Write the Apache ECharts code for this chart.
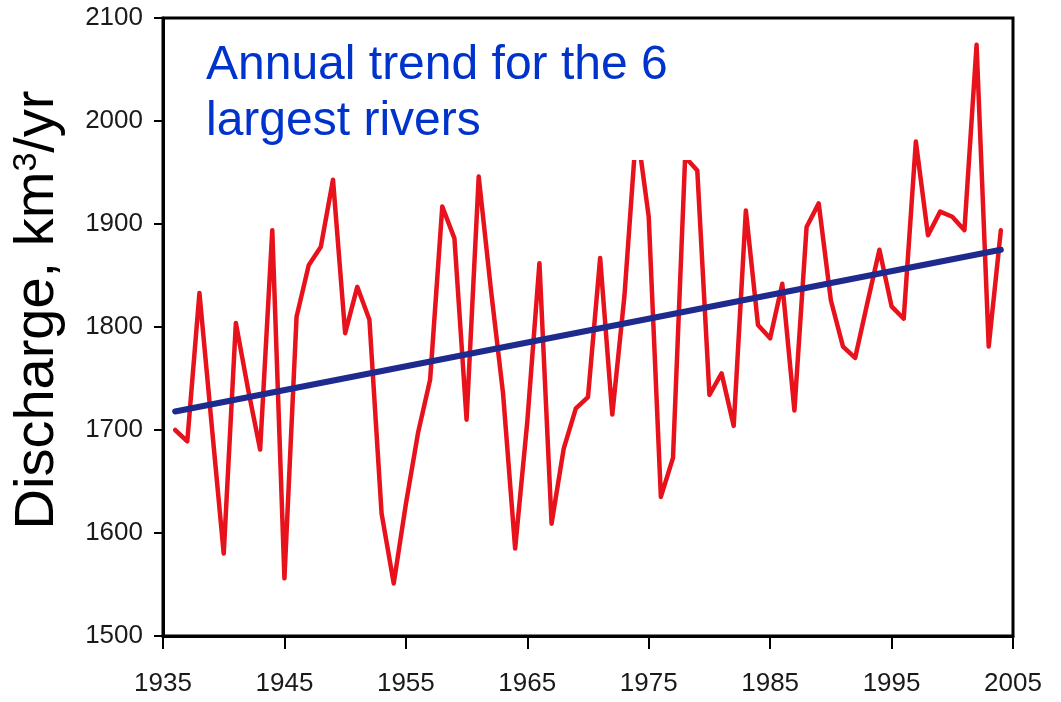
<!DOCTYPE html>
<html>
<head>
<meta charset="utf-8">
<script src="https://cdn.jsdelivr.net/npm/echarts@6/dist/echarts.min.js"></script>
<style>
  html, body { margin: 0; padding: 0; background: #ffffff; }
  #chart { width: 1061px; height: 702px; }
</style>
</head>
<body>
<div id="chart"></div>
<script>
// ---- data ----
const axisStartYear = 1935;
const xTickLabels = ['1935', '1945', '1955', '1965', '1975', '1985', '1995', '2005'];
const yTickLabels = ['1500', '1600', '1700', '1800', '1900', '2000', '2100'];
const years = [
  1936, 1937, 1938, 1939, 1940, 1941, 1942, 1943, 1944, 1945,
  1946, 1947, 1948, 1949, 1950, 1951, 1952, 1953, 1954, 1955,
  1956, 1957, 1958, 1959, 1960, 1961, 1962, 1963, 1964, 1965,
  1966, 1967, 1968, 1969, 1970, 1971, 1972, 1973, 1974, 1975,
  1976, 1977, 1978, 1979, 1980, 1981, 1982, 1983, 1984, 1985,
  1986, 1987, 1988, 1989, 1990, 1991, 1992, 1993, 1994, 1995,
  1996, 1997, 1998, 1999, 2000, 2001, 2002, 2003, 2004
];
const discharge = [
  1700, 1689, 1833, 1706, 1580, 1804, 1740, 1681, 1894, 1556,
  1810, 1860, 1878, 1943, 1794, 1839, 1807, 1619, 1551, 1628,
  1697, 1749, 1917, 1886, 1710, 1946, 1837, 1736, 1585, 1708,
  1862, 1609, 1682, 1721, 1732, 1867, 1715, 1830, 1995, 1907,
  1635, 1673, 1965, 1952, 1734, 1755, 1704, 1913, 1802, 1789,
  1842, 1719, 1897, 1920, 1826, 1781, 1770, 1823, 1875, 1820,
  1808, 1980, 1889, 1912, 1907, 1894, 2074, 1781, 1894
];
const trendYears = [1936, 2004];
const trendValues = [1718, 1875];
const titleText = 'Annual trend for the 6\nlargest rivers';

// ---- build series data (x measured in years after axisStartYear) ----
const redData = years.map((y, i) => [y - axisStartYear, discharge[i]]);
const trendData = trendYears.map((y, i) => [y - axisStartYear, trendValues[i]]);

const tickFont = "'Liberation Sans Narrow', 'Arial Narrow', 'Liberation Sans', Arial, sans-serif";
const mainFont = "'Liberation Sans', Arial, sans-serif";

const chart = echarts.init(document.getElementById('chart'), null, { renderer: 'canvas' });
chart.setOption({
  animation: false,
  backgroundColor: '#ffffff',
  grid: {
    left: 163, right: 48, top: 18, bottom: 66,
    show: true, borderColor: '#000000', borderWidth: 3, backgroundColor: 'transparent'
  },
  xAxis: {
    type: 'value',
    min: 0, max: 70, interval: 10,
    axisLine: { show: true, onZero: false, lineStyle: { color: '#000000', width: 3 } },
    axisTick: { show: true, inside: false, length: 13, lineStyle: { color: '#000000', width: 2 } },
    axisLabel: {
      margin: 35, color: '#1a1a1a', fontSize: 26, fontFamily: tickFont,
      formatter: v => xTickLabels[Math.round(v / 10)]
    },
    splitLine: { show: false }
  },
  yAxis: {
    type: 'value',
    min: 1500, max: 2100, interval: 100,
    name: 'Discharge, km{sup|3}/yr',
    nameLocation: 'middle',
    nameGap: 97,
    nameRotate: 90,
    nameTextStyle: {
      color: '#000000', fontSize: 56, fontFamily: mainFont,
      padding: [0, 0, 0, 34],
      rich: { sup: { fontSize: 34, verticalAlign: 'top', padding: [0, 0, 22, 0], color: '#000000', fontFamily: mainFont } }
    },
    axisLine: { show: true, lineStyle: { color: '#000000', width: 3 } },
    axisTick: { show: true, inside: false, length: 9, lineStyle: { color: '#000000', width: 2 } },
    axisLabel: {
      margin: 20, color: '#1a1a1a', fontSize: 26, fontFamily: tickFont,
      formatter: v => yTickLabels[Math.round((v - 1500) / 100)]
    },
    splitLine: { show: false }
  },
  series: [
    {
      name: 'Annual discharge',
      type: 'line',
      data: redData,
      showSymbol: false,
      symbol: 'none',
      lineStyle: { color: '#e8121c', width: 4.5, join: 'round', cap: 'round' },
      z: 2
    },
    {
      name: 'Trend',
      type: 'line',
      data: trendData,
      showSymbol: false,
      symbol: 'none',
      lineStyle: { color: '#1e2a8e', width: 6, cap: 'round' },
      z: 3
    }
  ],
  graphic: [
    {
      type: 'rect',
      left: 186, top: 21,
      shape: { width: 560, height: 139 },
      style: { fill: '#ffffff' },
      z: 50
    },
    {
      type: 'text',
      left: 206, top: 38,
      style: {
        text: titleText,
        fill: '#0033cc',
        font: "48px 'Liberation Sans', Arial, sans-serif",
        lineHeight: 56
      },
      z: 51
    }
  ]
});
</script>
</body>
</html>
